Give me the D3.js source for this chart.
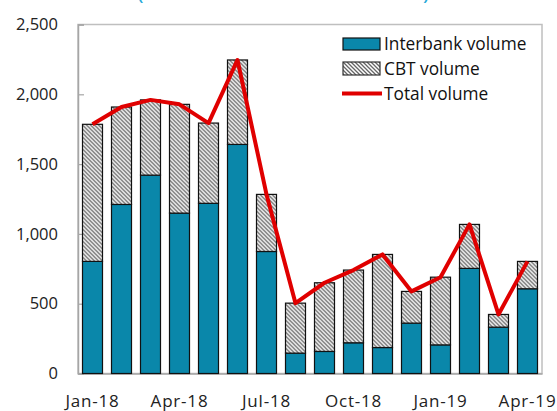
<!DOCTYPE html>
<html lang="en">
<head>
  <meta charset="UTF-8" />
  <script src="https://d3js.org/d3.v7.min.js"></script>
  <style>
    body { margin: 0; background: #fff; }
    text { font-family: "Open Sans", "Noto Sans", sans-serif; }
  </style>
</head>
<body>
  <div id="chart"></div>

  <script>
    // monthly data, Jan-18 .. Apr-19
    let months = ["Jan-18", "Feb-18", "Mar-18", "Apr-18", "May-18", "Jun-18", "Jul-18", "Aug-18",
                  "Sep-18", "Oct-18", "Nov-18", "Dec-18", "Jan-19", "Feb-19", "Mar-19", "Apr-19"];
    let interbank = [803, 1211, 1421, 1149, 1219, 1641, 874, 146, 158, 220, 186, 361, 205, 753, 332, 607];
    let cbt = [982, 698, 539, 779, 575, 605, 409, 358, 492, 521, 667, 227, 485, 315, 91, 196];
    let total = [1785, 1909, 1960, 1928, 1794, 2246, 1283, 504, 650, 741, 853, 588, 690, 1068, 423, 803];
    let tickLabels = ["Jan-18", "Apr-18", "Jul-18", "Oct-18", "Jan-19", "Apr-19"];
    let yTicks = [0, 500, 1000, 1500, 2000, 2500];

    let margin = {top: 24.5, right: 15, bottom: 37.5, left: 78},
        width = 557 - margin.left - margin.right,
        height = 411 - margin.top - margin.bottom;

    let svg = d3.select("#chart")
      .append("svg")
        .attr("width", 557)
        .attr("height", 411);

    // hatch pattern for CBT
    let defs = svg.append("defs");
    let pat = defs.append("pattern")
        .attr("id", "hatch")
        .attr("patternUnits", "userSpaceOnUse")
        .attr("width", 4)
        .attr("height", 4);
    pat.append("rect").attr("width", 4).attr("height", 4).attr("fill", "#fff");
    pat.append("path")
        .attr("d", "M-1,-1 L5,5 M-1,3 L1,5 M3,-1 L5,1")
        .attr("stroke", "#666")
        .attr("stroke-width", 1.3);

    // title, cut off at the top like in the original
    svg.append("text")
        .attr("x", 284)
        .attr("y", 0)
        .attr("text-anchor", "middle")
        .style("fill", "#29a9d8")
        .style("font-size", "22px")
        .style("letter-spacing", "1.5px")
        .text("(In millions of US dollars)");

    let g = svg.append("g")
        .attr("transform", "translate(" + margin.left + "," + margin.top + ")");

    let x = d3.scaleBand()
      .domain(months)
      .range([0, width])
      .paddingInner(0.31)
      .paddingOuter(0.155);

    let y = d3.scaleLinear()
      .domain([0, 2500])
      .range([height, 0]);

    // plot frame
    g.append("rect")
        .attr("width", width)
        .attr("height", height)
        .attr("fill", "none")
        .attr("stroke", "#bfbfbf")
        .attr("stroke-width", 1.5);

    // y axis
    let yAxis = g.append("g")
        .call(d3.axisRight(y).tickValues(yTicks).tickSize(6).tickFormat(d3.format(",")));
    yAxis.select(".domain").attr("stroke", "#a6a6a6").attr("stroke-width", 1.5);
    yAxis.selectAll(".tick line").attr("stroke", "#a6a6a6").attr("stroke-width", 1.2);
    yAxis.selectAll(".tick text")
        .attr("x", -20)
        .attr("text-anchor", "end")
        .style("font-size", "16.5px")
        .style("fill", "#222");

    // x axis
    let xAxis = g.append("g")
        .attr("transform", "translate(0," + height + ")")
        .call(d3.axisBottom(x).tickValues(tickLabels).tickSize(0));
    xAxis.select(".domain").attr("stroke", "#a6a6a6").attr("stroke-width", 1.5);
    xAxis.selectAll(".tick text")
        .attr("dy", "1.8em")
        .style("font-size", "17px")
        .style("letter-spacing", "0.8px")
        .style("fill", "#222");

    // interbank bars
    g.selectAll("barInter")
      .data(months)
      .enter()
      .append("rect")
        .attr("x", function(d) { return x(d); })
        .attr("y", function(d, i) { return y(interbank[i]); })
        .attr("width", x.bandwidth())
        .attr("height", function(d, i) { return y(0) - y(interbank[i]); })
        .attr("fill", "#0a87aa")
        .attr("stroke", "#111")
        .attr("stroke-width", 1.2);

    // CBT bars stacked on top
    g.selectAll("barCbt")
      .data(months)
      .enter()
      .append("rect")
        .attr("x", function(d) { return x(d); })
        .attr("y", function(d, i) { return y(interbank[i] + cbt[i]); })
        .attr("width", x.bandwidth())
        .attr("height", function(d, i) { return y(interbank[i]) - y(interbank[i] + cbt[i]); })
        .attr("fill", "url(#hatch)")
        .attr("stroke", "#111")
        .attr("stroke-width", 1.2);

    // total line
    let line = d3.line()
      .x(function(d, i) { return x(months[i]) + x.bandwidth() / 2; })
      .y(function(d) { return y(d); });
    g.append("path")
        .datum(total)
        .attr("d", line)
        .attr("fill", "none")
        .attr("stroke", "#e00000")
        .attr("stroke-width", 4)
        .attr("stroke-linejoin", "round");

    // legend
    let legend = svg.append("g").attr("transform", "translate(343,38)");
    legend.append("rect")
        .attr("width", 37).attr("height", 12)
        .attr("fill", "#0a87aa").attr("stroke", "#111").attr("stroke-width", 1.2);
    legend.append("rect")
        .attr("y", 24).attr("width", 37).attr("height", 13)
        .attr("fill", "url(#hatch)").attr("stroke", "#333").attr("stroke-width", 1.2);
    legend.append("line")
        .attr("x1", -1).attr("x2", 39).attr("y1", 55.5).attr("y2", 55.5)
        .attr("stroke", "#e00000").attr("stroke-width", 4);
    let legendText = ["Interbank volume", "CBT volume", "Total volume"];
    legend.selectAll("legendLabel")
      .data(legendText)
      .enter()
      .append("text")
        .attr("x", 41)
        .attr("y", function(d, i) { return 6 + i * 24.8; })
        .attr("dy", "0.36em")
        .style("font-size", "17.3px")
        .style("fill", "#111")
        .text(function(d) { return d; });
  </script>
</body>
</html>
